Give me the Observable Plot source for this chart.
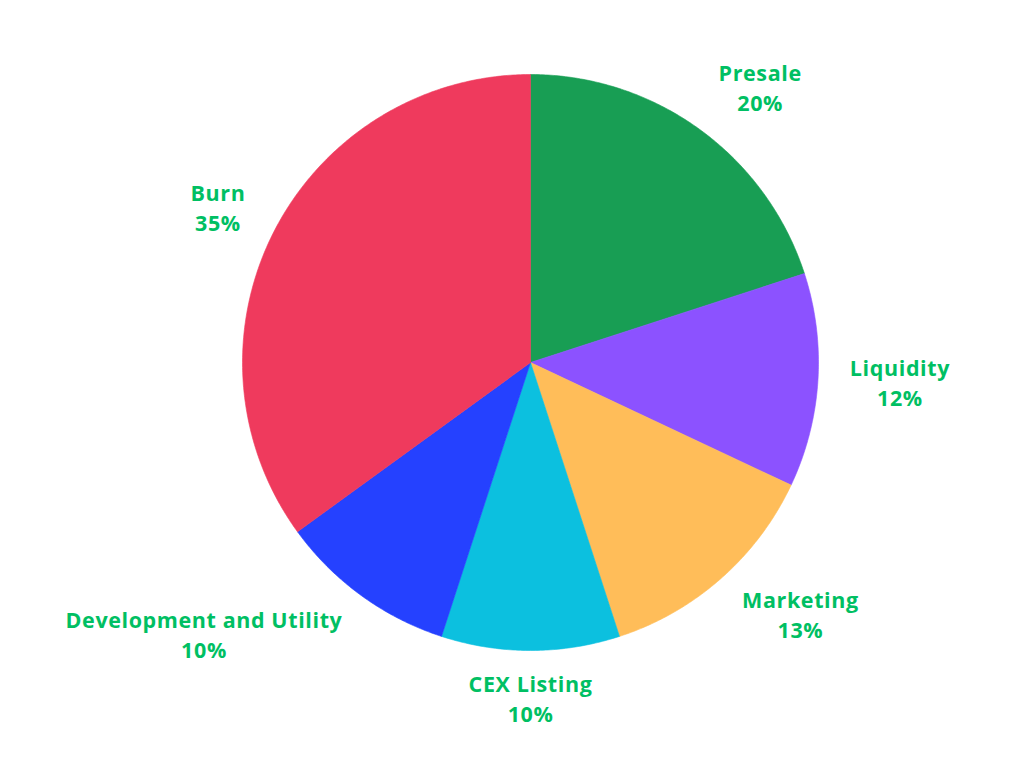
<!DOCTYPE html>
<html>
<head>
<meta charset="utf-8">
<script src="https://cdn.jsdelivr.net/npm/d3@7"></script>
<script src="https://cdn.jsdelivr.net/npm/@observablehq/plot@0.6"></script>
<style>
  html, body { margin: 0; padding: 0; background: #ffffff; }
  #chart { width: 1024px; height: 768px; }
</style>
</head>
<body>
<div id="chart"></div>
<script>
// ---- data ----
const names = ["Presale", "Liquidity", "Marketing", "CEX Listing", "Development and Utility", "Burn"];
const shares = [20, 12, 13, 10, 10, 35];
const colors = ["#189e54", "#8c52ff", "#ffbd59", "#0cc0df", "#2541ff", "#ef3a5d"];
const labelColor = "#00bf63";

// ---- layout ----
const W = 1024, H = 768;
const cx = 530, cy = 362, R = 288;      // pie centre and radius in px
const labelDist = 320;                   // distance of label anchor from centre (px)
const fontSize = 21.5, lineGap = 30, letterSp = 0.6;
const fontFamily = "'Open Sans', 'Liberation Sans', sans-serif";

const table = names.map((n, i) => ({name: n, share: shares[i], color: colors[i]}));
const arcs = d3.pie().sort(null).value(d => d.share).startAngle(0).endAngle(2 * Math.PI)(table);

// slice outlines in unit-circle coordinates (angle measured clockwise from 12 o'clock)
const slicePoints = arcs.map(a => {
  const pts = [{x: 0, y: 0}];
  const steps = Math.max(8, Math.ceil((a.endAngle - a.startAngle) / (Math.PI / 360)));
  for (let k = 0; k <= steps; k++) {
    const t = a.startAngle + (a.endAngle - a.startAngle) * k / steps;
    pts.push({x: Math.sin(t), y: Math.cos(t)});
  }
  pts.push({x: 0, y: 0});
  return {name: a.data.name, color: a.data.color, pts};
});

// text measurement
const ctx = document.createElement("canvas").getContext("2d");
ctx.font = `700 ${fontSize}px ${fontFamily}`;
const measure = s => ctx.measureText(s).width + letterSp * s.length;

const labels = arcs.map(a => {
  const mid = (a.startAngle + a.endAngle) / 2;
  const s = Math.sin(mid), c = Math.cos(mid);
  const pct = `${a.data.share}%`;
  const w = Math.max(measure(a.data.name), measure(pct));
  const halfH = 18;
  const side = Math.abs(s) > 0.3 ? Math.sign(s) : 0;
  const px = cx + s * labelDist + side * w / 2;
  const py = cy - c * labelDist - c * halfH;
  return {name: a.data.name, pct, x: (px - cx) / R, y1: (cy - (py - lineGap / 2)) / R, y2: (cy - (py + lineGap / 2)) / R};
});

const plot = Plot.plot({
  width: W,
  height: H,
  margin: 0,
  x: {domain: [-cx / R, (W - cx) / R], range: [0, W], axis: null},
  y: {domain: [-(H - cy) / R, cy / R], range: [H, 0], axis: null},
  style: {background: "#ffffff", fontFamily: fontFamily},
  marks: [
    ...slicePoints.map(s => Plot.line(s.pts, {x: "x", y: "y", fill: s.color, stroke: s.color, strokeWidth: 0.6, curve: "linear"})),
    Plot.text(labels, {x: "x", y: "y1", text: "name", fill: labelColor, fontSize: fontSize, fontWeight: 700, textAnchor: "middle", lineAnchor: "middle"}),
    Plot.text(labels, {x: "x", y: "y2", text: "pct", fill: labelColor, fontSize: fontSize, fontWeight: 700, textAnchor: "middle", lineAnchor: "middle"})
  ]
});
plot.querySelectorAll("text").forEach(t => t.style.letterSpacing = letterSp + "px");
document.getElementById("chart").appendChild(plot);
</script>
</body>
</html>
